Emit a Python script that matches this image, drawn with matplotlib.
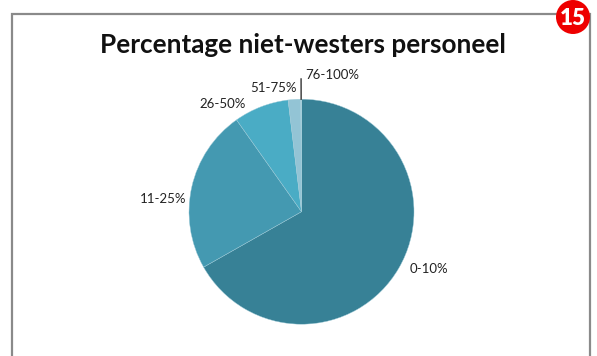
import matplotlib
matplotlib.use("Agg")
import matplotlib.pyplot as plt
from matplotlib.patches import Rectangle, Ellipse
import numpy as np

W, H = 597, 356

categories = ["0-10%", "11-25%", "26-50%", "51-75%", "76-100%"]
shares = [66.8, 23.4, 7.9, 1.8, 0.1]
colors = ["#378196", "#4499b1", "#4aacc5", "#93c4d5", "#bcdde8"]

# label anchor points in pixels (left edge, vertical centre)
label_pos = {
    "0-10%": (410, 269),
    "11-25%": (140, 199),
    "26-50%": (199, 104),
    "51-75%": (250, 88),
    "76-100%": (305, 75),
}

plt.rcParams["font.family"] = ["Lato", "DejaVu Sans"]

fig = plt.figure(figsize=(W / 100, H / 100), dpi=100)


def px(x, y):
    return x / W, 1 - y / H


# grey frame, open at the bottom
fig.add_artist(Rectangle(px(12, 380), (590 - 12) / W, (380 - 14) / H,
                         transform=fig.transFigure, fill=False,
                         edgecolor="#8a8a8a", linewidth=1.6, clip_on=False))

# page badge
bx, by = px(573, 17)
fig.add_artist(Ellipse((bx, by), 34 / W, 34 / H, transform=fig.transFigure,
                       facecolor="#ee0000", edgecolor="none", zorder=5))
fig.text(bx, by - 1.5 / H, "15", color="white", fontsize=16, fontweight="heavy",
         ha="center", va="center", zorder=6)

fig.text(*px(303, 45), "Percentage niet-westers personeel", fontsize=18.8,
         fontweight="bold", ha="center", va="center", color="#111111")

cx, cy, r = 301.5, 211.7, 112.5
ax = fig.add_axes([(cx - r) / W, (H - cy - r) / H, 2 * r / W, 2 * r / H])
wedges, _ = ax.pie(shares, colors=colors, startangle=90, counterclock=False,
                   wedgeprops=dict(edgecolor="#9fcbd8", linewidth=0.3))
ax.set_xlim(-1, 1)
ax.set_ylim(-1, 1)
ax.axis("off")

# leader line for the smallest slice
w = wedges[-1]
ang = np.deg2rad((w.theta1 + w.theta2) / 2)
ax.plot([np.cos(ang), np.cos(ang) * 1.18], [np.sin(ang), np.sin(ang) * 1.18],
        color="#333333", linewidth=1.0, clip_on=False)

for cat in categories:
    x, y = label_pos[cat]
    fig.text(*px(x, y), cat, fontsize=9.5, ha="left", va="center",
             color="#222222")

fig.savefig("out.png", dpi=100)
